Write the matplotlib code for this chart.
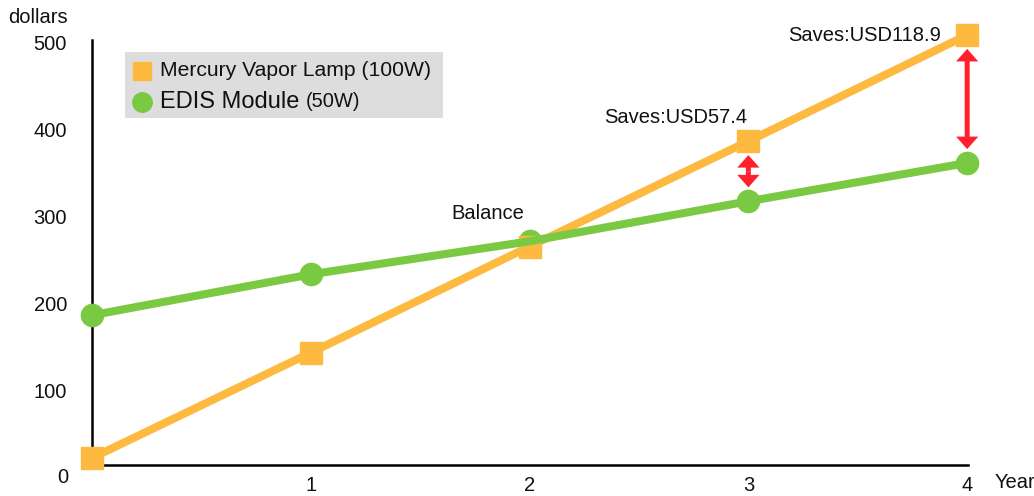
## Cost comparison: mercury vapor lamp vs EDIS module
import matplotlib
matplotlib.use("Agg")
import matplotlib.pyplot as plt
from matplotlib.patches import Rectangle

plt.rcParams['font.family'] = ['Liberation Sans', 'DejaVu Sans']

## Data
years = [0, 1, 2, 3, 4]
year_labels = ['1', '2', '3', '4']
mercury = [23, 144, 266, 387, 509]
edis = [187, 234, 272, 318, 362]
y_ticks = [100, 200, 300, 400, 500]
savings = {3: 'Saves:USD57.4', 4: 'Saves:USD118.9'}

orange = '#FDB940'
green = '#7AC943'
red = '#FF1F2D'
txt = '#111111'
fs = 14.5

fig = plt.figure(figsize=(10.34, 4.96), dpi=100)
ax = fig.add_axes([0.089, 0.0625, 0.847, 0.857])

## lines, drawn in layers so the green line crosses over the orange one
ax.plot(years, mercury, color=orange, lw=5.8, zorder=2, clip_on=False)
ax.plot(years, edis, ls='none', marker='o', ms=16, color=green, zorder=3, clip_on=False)
ax.plot(years, mercury, ls='none', marker='s', ms=16.5, color=orange, zorder=4, clip_on=False)
ax.plot(years, edis, color=green, lw=5.8, zorder=5, clip_on=False)

## saving arrows
for yr, label in savings.items():
    top, bot = mercury[yr], edis[yr]
    mid = (top + bot) / 2
    style = 'simple,head_length=0.45,head_width=0.8,tail_width=0.18'
    for end in (top, bot):
        ax.annotate('', xy=(yr, end), xytext=(yr, mid),
                    arrowprops=dict(arrowstyle=style, fc=red, ec='none',
                                    shrinkA=0, shrinkB=10, mutation_scale=20),
                    zorder=6, annotation_clip=False)

ax.annotate(savings[3], xy=(3, mercury[3]), xytext=(-52, 17), textcoords='offset points',
            ha='center', va='center', fontsize=fs, color=txt)
ax.annotate(savings[4], xy=(4, mercury[4]), xytext=(-19, 0), textcoords='offset points',
            ha='right', va='center', fontsize=fs, color=txt, annotation_clip=False)
ax.annotate('Balance', xy=(2, edis[2]), xytext=(-30, 20), textcoords='offset points',
            ha='center', va='center', fontsize=fs, color=txt)

## axes
ax.set_xlim(0, 4.003)
ax.set_ylim(14.9, 503.4)
for side in ['top', 'right']:
    ax.spines[side].set_visible(False)
for side in ['left', 'bottom']:
    ax.spines[side].set_linewidth(1.8)
    ax.spines[side].set_color('black')
ax.set_xticks(years[1:])
ax.set_xticklabels(year_labels)
ax.set_yticks(y_ticks)
ax.tick_params(length=0, labelsize=fs, labelcolor=txt)
ax.tick_params(axis='x', pad=8)
ax.tick_params(axis='y', pad=18)
ax.text(-0.033, -0.03, '0', transform=ax.transAxes, ha='center', va='center',
        fontsize=fs, color=txt)
ax.text(1.031, -0.042, 'Year', transform=ax.transAxes, ha='left', va='center',
        fontsize=fs, color=txt)
ax.text(-0.096, 1.052, 'dollars', transform=ax.transAxes, ha='left', va='center',
        fontsize=fs, color=txt)

## legend box drawn by hand (mixed font sizes)
ax.add_patch(Rectangle((0.0377, 0.8165), 0.363, 0.155, transform=ax.transAxes,
                       fc='#DDDDDD', ec='none', clip_on=False, zorder=1))
ax.plot([0.057], [0.927], transform=ax.transAxes, marker='s', ms=13, color=orange,
        ls='none', clip_on=False)
ax.plot([0.057], [0.854], transform=ax.transAxes, marker='o', ms=14, color=green,
        ls='none', clip_on=False)
ax.text(0.078, 0.927, 'Mercury Vapor Lamp (100W)', transform=ax.transAxes,
        ha='left', va='center', fontsize=15.2, color=txt)
ax.text(0.078, 0.854, 'EDIS Module', transform=ax.transAxes,
        ha='left', va='center', fontsize=17, color=txt)
ax.text(0.2445, 0.854, '(50W)', transform=ax.transAxes,
        ha='left', va='center', fontsize=14.5, color=txt)

fig.savefig('out.png', dpi=100)
